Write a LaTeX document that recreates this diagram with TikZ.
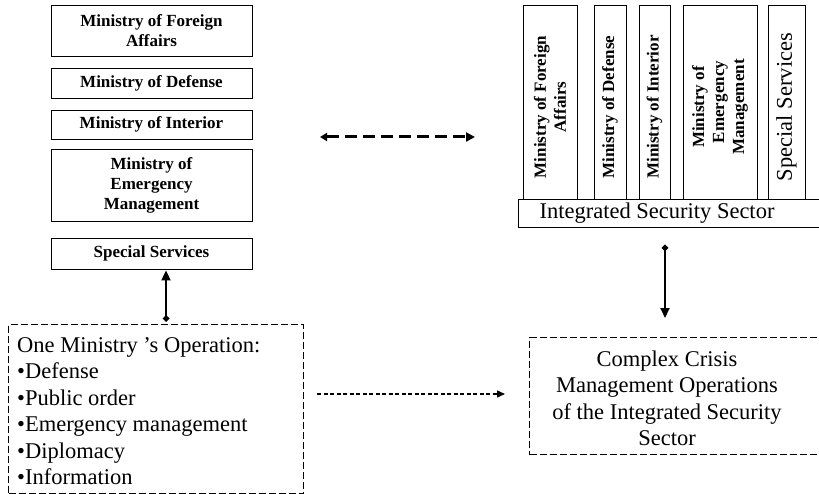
\documentclass[tikz,border=0pt]{standalone}
\usepackage{fontspec}
\setmainfont{Liberation Serif}
\usetikzlibrary{arrows.meta}
% pad a rotated label so that it sits a little lower in its column
\newcommand{\lowpad}{\hspace*{10pt}}
\begin{document}
\begin{tikzpicture}[x=1pt,y=-1pt,
  ministry/.style={draw, line width=0.9pt, inner sep=0pt, minimum width=201pt,
    align=center, font=\fontsize{17}{20}\selectfont\bfseries},
  column/.style={draw, line width=0.9pt, inner sep=0pt, rotate=90,
    minimum width=194pt, align=center, font=\fontsize{17}{20}\selectfont\bfseries},
  plain/.style={inner sep=0pt, font=\fontsize{22.5}{26.5}\selectfont},
  dashbox/.style={draw, line width=1.3pt, dash pattern=on 7pt off 3pt, inner sep=0pt},
  link/.style={line width=2pt,
    {Diamond[length=7pt,width=7pt]}-{Triangle[length=10pt,width=9pt]}},
  flow/.style={line width=1.3pt, dash pattern=on 4pt off 2.5pt,
    -{Triangle[length=8pt,width=7pt]}},
  swap/.style={line width=3pt, dash pattern=on 12pt off 6pt,
    {Triangle[length=7pt,width=8pt]}-{Triangle[length=9pt,width=9pt]}},
]
\useasboundingbox (0,0) rectangle (819,494);

% separate ministries
\node[ministry, minimum height=51pt] (fa)  at (151.5,30.5)  {Ministry of Foreign\\Affairs};
\node[ministry, minimum height=30pt] (def) at (151.5,83)    {Ministry of Defense};
\node[ministry, minimum height=29pt] (int) at (151.5,124.5) {Ministry of Interior};
\node[ministry, minimum height=72pt] (emg) at (151.5,185)   {Ministry of\\Emergency\\Management};
\node[ministry, minimum height=31pt] (ss)  at (151.5,253.5) {Special Services};

% one-ministry operation
\node[dashbox, minimum width=295pt, minimum height=169pt, anchor=north west] (ops) at (8,324) {};
\node[plain, anchor=west, align=left] (opstext) at (17,411)
  {One Ministry ’s Operation:\\•Defense\\•Public order\\•Emergency management\\•Diplomacy\\•Information};

% integrated sector: columns on a common bar
\node[column, minimum height=54pt] (c1) at (550,102)   {Ministry of Foreign\lowpad\\Affairs\lowpad};
\node[column, minimum height=32pt] (c2) at (610,102)   {Ministry of Defense\lowpad};
\node[column, minimum height=31pt] (c3) at (654.5,102) {Ministry of Interior\lowpad};
\node[column, minimum height=74pt] (c4) at (720,102)   {Ministry of\lowpad\\Emergency\lowpad\\Management\lowpad};
\node[column, minimum height=37pt, font=\fontsize{22.5}{26.5}\selectfont] (c5) at (786.5,102) {Special Services\lowpad};

\node[draw, line width=0.9pt, inner sep=0pt, minimum width=312pt, minimum height=28pt,
  anchor=north west] (bar) at (518,199) {};
\node[plain] (barlabel) at (657,213) {Integrated Security Sector};

% complex operations
\node[dashbox, minimum width=300pt, minimum height=117pt, anchor=north west] (cplx) at (529,337) {};
\node[plain, align=center] (cplxtext) at (667,398.5)
  {Complex Crisis\\Management Operations\\of the Integrated Security\\Sector};

% connectors
\coordinate (a1) at (166,0);
\coordinate (a2) at (665,0);
\coordinate (a3) at (0,394);
\coordinate (lt) at (320,137);
\coordinate (rt) at (475,137);

\draw[link, shorten <=2pt, shorten >=1pt] (ops.north -| a1) -- (ss.south -| a1);
\draw[link, shorten <=16.5pt, shorten >=19pt] (bar.south -| a2) -- (cplx.north -| a2);
\draw[flow, shorten <=13pt, shorten >=24pt] (ops.east |- a3) -- (cplx.west |- a3);
\draw[swap] (lt) -- (rt);
\end{tikzpicture}
\end{document}
